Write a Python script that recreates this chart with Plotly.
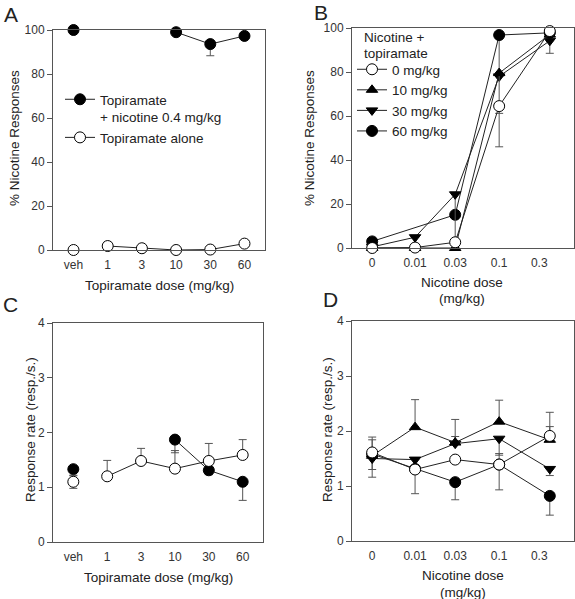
import plotly.graph_objects as go

W, H = 575, 599

# ---------------- data ----------------
topi_labels = ["veh", "1", "3", "10", "30", "60"]
topi_doses = ["1", "3", "10", "30", "60"]

# Panel A: % nicotine responses vs topiramate dose
a_veh_combo = 100.0
a_veh_alone = 0.0
a_combo = [None, None, 99.0, 93.6, 97.3]
a_combo_err_minus = [None, None, None, 5.3, None]
a_alone = [1.8, 0.8, 0.0, 0.2, 2.9]
a_alone_err_plus = [1.7, None, None, None, None]

# Panel C: response rate vs topiramate dose
c_veh_combo = 1.33
c_veh_combo_err_minus = 0.12
c_veh_alone = 1.10
c_veh_alone_err = 0.12
c_combo = [None, None, 1.87, 1.31, 1.10]
c_combo_err_minus = [None, None, 0.24, 0.08, 0.34]
c_alone = [1.20, 1.48, 1.34, 1.48, 1.59]
c_alone_err_plus = [0.29, 0.23, 0.33, 0.32, 0.28]

# Panels B / D: nicotine dose-response with topiramate pretreatment
nic_doses = [0, 0.01, 0.03, 0.1, 0.4]
nic_tick_vals = [0, 0.01, 0.03, 0.1, 0.3]
nic_tick_text = ["0", "0.01", "0.03", "0.1", "0.3"]
group_names = ["0 mg/kg", "10 mg/kg", "30 mg/kg", "60 mg/kg"]

b_0 = [0.0, 0.2, 2.6, 64.5, 98.6]
b_0_err_minus = [None, None, None, 18.5, None]
b_10 = [0.0, 0.0, 0.0, 79.5, 97.0]
b_10_err_minus = [None, None, None, 18.3, None]
b_30 = [0.5, 4.9, 24.4, 78.0, 94.2]
b_30_err_minus = [None, None, 24.0, None, 5.7]
b_60 = [3.0, None, 15.1, 96.8, 97.8]
b_60_err_minus = [None, None, None, 17.0, None]

d_0 = [1.61, 1.30, 1.48, 1.39, 1.91]
d_0_err_plus = [0.28, None, None, 0.20, 0.43]
d_0_err_minus = [None, 0.44, None, 0.46, None]
d_10 = [1.55, 2.07, 1.79, 2.17, 1.84]
d_10_err_plus = [0.29, 0.50, 0.42, 0.39, 0.24]
d_30 = [1.50, 1.48, 1.77, 1.86, 1.31]
d_30_err_plus = [None, None, 0.13, None, None]
d_30_err_minus = [0.34, None, None, 0.30, 0.12]
d_60 = [1.58, 1.31, 1.07, 1.39, 0.82]
d_60_err_minus = [0.28, None, 0.32, None, 0.35]

# ---------------- style ----------------
FONT = "Liberation Sans, Arial, sans-serif"
LINE_C = "#222222"
AX_C = "#555555"
ERR_C = "#555555"
TXT_C = "#222222"
MS = 11
ZERO_POS = 10 ** -2.51  # position of the "0" (axis break) on the log axis


def nx(d):
    return d if d > 0 else ZERO_POS


nic_x = [nx(d) for d in nic_doses]
nic_tick_x = [nx(d) for d in nic_tick_vals]

STYLES = {
    "open": dict(symbol="circle", color="white"),
    "filled": dict(symbol="circle", color="black"),
    "up": dict(symbol="triangle-up", color="black"),
    "down": dict(symbol="triangle-down", color="black"),
}


def err(plus=None, minus=None):
    n = len(plus if plus is not None else minus)
    plus = plus if plus is not None else [None] * n
    minus = minus if minus is not None else [None] * n
    return dict(type="data", symmetric=False, array=plus, arrayminus=minus,
                color=ERR_C, thickness=1, width=4)


fig = go.Figure()


def add(x, y, style, xa, ya, name=None, legend=None, ep=None, em=None,
        mode="lines+markers", rank=None):
    st = STYLES[style]
    sz = MS if style in ("open", "filled") else MS - 1
    tr = go.Scatter(
        x=x, y=y, mode=mode, xaxis=xa, yaxis=ya,
        line=dict(color=LINE_C, width=1),
        marker=dict(symbol=st["symbol"], size=sz, color=st["color"],
                    line=dict(color="black", width=1)),
        cliponaxis=False,
        connectgaps=(xa in ("x2", "x4")),
        showlegend=name is not None,
        name=name or "",
        hoverinfo="skip",
    )
    if legend:
        tr.legend = legend
    if rank is not None:
        tr.legendrank = rank
    if ep is not None or em is not None:
        tr.error_y = err(ep, em)
    fig.add_trace(tr)


# Panel A
add(["veh"], [a_veh_alone], "open", "x", "y", mode="markers")
add(topi_doses, a_alone, "open", "x", "y", name="Topiramate alone",
    legend="legend", ep=a_alone_err_plus, rank=2)
add(["veh"], [a_veh_combo], "filled", "x", "y", mode="markers")
add(topi_doses, a_combo, "filled", "x", "y",
    name="Topiramate<br>+ nicotine 0.4 mg/kg", legend="legend",
    em=a_combo_err_minus, rank=1)

# Panel C
add(["veh"], [c_veh_combo], "filled", "x3", "y3", mode="markers",
    em=[c_veh_combo_err_minus])
add(topi_doses, c_combo, "filled", "x3", "y3", em=c_combo_err_minus)
add(["veh"], [c_veh_alone], "open", "x3", "y3", mode="markers",
    ep=[c_veh_alone_err], em=[c_veh_alone_err])
add(topi_doses, c_alone, "open", "x3", "y3", ep=c_alone_err_plus)

# Panel B
add(nic_x, b_60, "filled", "x2", "y2", name=group_names[3], legend="legend2",
    em=b_60_err_minus, rank=4)
add(nic_x, b_30, "down", "x2", "y2", name=group_names[2], legend="legend2",
    em=b_30_err_minus, rank=3)
add(nic_x, b_10, "up", "x2", "y2", name=group_names[1], legend="legend2",
    em=b_10_err_minus, rank=2)
add(nic_x, b_0, "open", "x2", "y2", name=group_names[0], legend="legend2",
    em=b_0_err_minus, rank=1)

# Panel D
add(nic_x, d_60, "filled", "x4", "y4", em=d_60_err_minus)
add(nic_x, d_30, "down", "x4", "y4", ep=d_30_err_plus, em=d_30_err_minus)
add(nic_x, d_10, "up", "x4", "y4", ep=d_10_err_plus)
add(nic_x, d_0, "open", "x4", "y4", ep=d_0_err_plus, em=d_0_err_minus)


# ---------------- axes ----------------
def px_x(a, b):
    return [a / W, b / W]


def px_y(top, bottom):
    return [(H - bottom) / H, (H - top) / H]


common = dict(showline=True, linecolor=AX_C, linewidth=1, mirror=True,
              showgrid=False, zeroline=False, automargin=False,
              tickfont=dict(size=12, color="#333333", family=FONT))

xcat = dict(common, type="category", categoryorder="array",
            categoryarray=topi_labels, range=[-0.6, 5.6], ticks="",
            ticklabelstandoff=4)
xlog = dict(common, type="log", range=[-2.75, -0.11], ticks="",
            tickvals=nic_tick_x, ticktext=nic_tick_text, ticklabelstandoff=4)
ypct = dict(common, range=[0, 100], tickvals=[0, 20, 40, 60, 80, 100],
            ticks="outside", ticklen=5, tickcolor=AX_C)
yrate = dict(common, range=[0, 4], tickvals=[0, 1, 2, 3, 4],
             ticks="outside", ticklen=5, tickcolor=AX_C)

fig.update_layout(
    xaxis=dict(xcat, domain=px_x(53, 265), anchor="y"),
    yaxis=dict(ypct, domain=px_y(30, 250), anchor="x"),
    xaxis2=dict(xlog, domain=px_x(352, 574), anchor="y2"),
    yaxis2=dict(ypct, domain=px_y(28, 248), anchor="x2"),
    xaxis3=dict(xcat, domain=px_x(53, 263), anchor="y3"),
    yaxis3=dict(yrate, domain=px_y(323, 542), anchor="x3"),
    xaxis4=dict(xlog, domain=px_x(352, 574), anchor="y4"),
    yaxis4=dict(yrate, domain=px_y(321, 541), anchor="x4"),
)

# ---------------- annotations (titles, panel letters) ----------------
ann = []


def text(x, y, s, size=14, angle=0, xanchor="center"):
    ann.append(dict(x=x / W, y=1 - y / H, xref="paper", yref="paper",
                    text=s, showarrow=False, textangle=angle,
                    xanchor=xanchor, yanchor="middle",
                    font=dict(size=size, color=TXT_C, family=FONT)))


text(11, 14, "A", 21)
text(321, 12, "B", 21)
text(10, 304, "C", 21)
text(330, 299, "D", 21)

text(15, 138, "% Nicotine Responses", 13.5, -90)
text(310, 138, "% Nicotine Responses", 13.5, -90)
text(30, 430, "Response rate (resp./s.)", 13.5, -90)
text(327, 430, "Response rate (resp./s.)", 13.5, -90)

text(159, 285, "Topiramate dose (mg/kg)", 13.5)
text(158, 577, "Topiramate dose (mg/kg)", 13.5)
text(462, 282, "Nicotine dose", 13.5)
text(462, 298, "(mg/kg)", 13.5)
text(463, 575, "Nicotine dose", 13.5)
text(463, 592, "(mg/kg)", 13.5)

# legend title for panel B
text(362, 38, "Nicotine +", 13.5, xanchor="left")
text(362, 54, "topiramate", 13.5, xanchor="left")

fig.update_layout(
    annotations=ann,
    width=W, height=H,
    margin=dict(l=0, r=0, t=0, b=0, autoexpand=False),
    paper_bgcolor="white", plot_bgcolor="white",
    font=dict(family=FONT, color=TXT_C),
    hovermode=False,
    legend=dict(x=60 / W, y=1 - 84 / H, xanchor="left", yanchor="top",
                bgcolor="rgba(0,0,0,0)", font=dict(size=13.5, family=FONT),
                valign="top", tracegroupgap=8, itemwidth=30),
    legend2=dict(x=352 / W, y=1 - 54 / H, xanchor="left", yanchor="top",
                 bgcolor="rgba(0,0,0,0)", font=dict(size=13.5, family=FONT),
                 itemwidth=30),
)

fig.write_html(
    "out.html",
    config={"displayModeBar": False},
    post_script="document.body.style.margin='0';"
                "document.body.style.overflow='hidden';",
)
